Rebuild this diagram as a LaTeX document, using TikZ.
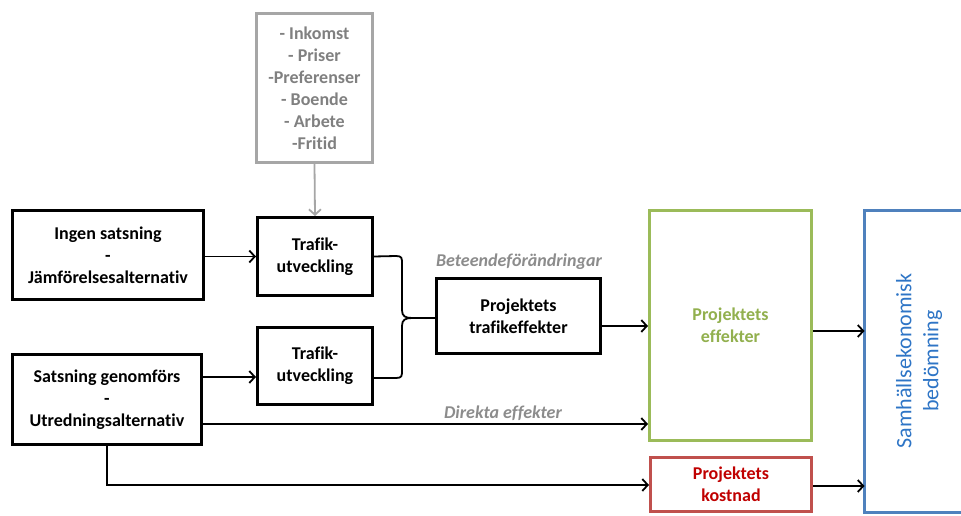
\documentclass[tikz,border=0pt]{standalone}
\usepackage{fontspec}
\setmainfont{Carlito}[Ligatures=NoCommon]
\usetikzlibrary{arrows.meta}
\definecolor{boxgray}{HTML}{A6A6A6}
\definecolor{txtgray}{HTML}{808080}
\definecolor{labgray}{HTML}{8C8C8C}
\definecolor{grn}{HTML}{9BBB59}
\definecolor{grntxt}{HTML}{92B04E}
\definecolor{redb}{HTML}{C0504D}
\definecolor{redtxt}{HTML}{C00000}
\definecolor{blu}{HTML}{4F81BD}
\definecolor{blutxt}{HTML}{2E75C6}
\begin{document}
\begin{tikzpicture}[x=1pt,y=-1pt,
  box/.style={draw, line width=3pt, align=center, inner sep=0pt,
    font=\bfseries\fontsize{18}{22}\selectfont},
  conn/.style={line width=1.8pt, -{Straight Barb[length=5.5pt,width=12pt,line width=1.8pt]}},
  plain/.style={line width=1.8pt},
  lab/.style={font=\bfseries\itshape\fontsize{18}{20}\selectfont, text=labgray}]
\useasboundingbox[fill=white] (0,0) rectangle (961,516);

\node[box, draw=boxgray, text=txtgray, minimum width=116pt, minimum height=149pt] (fac) at (314.5,88)
  {- Inkomst\\- Priser\\-Preferenser\\- Boende\\- Arbete\\-Fritid};
\node[box, minimum width=191pt, minimum height=89pt] (ingen) at (108,255)
  {Ingen satsning\\-\\Jämförelsesalternativ};
\node[box, minimum width=189pt, minimum height=90pt] (sats) at (107,399.5)
  {Satsning genomförs\\-\\Utredningsalternativ};
\node[box, minimum width=115pt, minimum height=78pt] (t1) at (315,256.5)
  {Trafik-\\utveckling};
\node[box, minimum width=115pt, minimum height=77pt] (t2) at (315,366)
  {Trafik-\\utveckling};
\node[box, minimum width=164pt, minimum height=75pt] (ptraf) at (518.5,316)
  {Projektets\\trafikeffekter};
\node[box, draw=grn, text=grntxt, minimum width=162pt, minimum height=230pt] (eff) at (730.5,325.5)
  {Projektets\\effekter};
\node[box, draw=redb, text=redtxt, minimum width=161pt, minimum height=54pt] (kost) at (731,484.5)
  {Projektets\\kostnad};
\draw[blu, line width=3pt] (975,210.5) -- (864.5,210.5) -- (864.5,512.5) -- (975,512.5);
\node[font=\fontsize{22}{27}\selectfont, text=blutxt, align=center, rotate=90] (samh) at (919,361)
  {Samhällsekonomisk\\bedömning};
\coordinate (bl) at (864.5,360);

\node[lab] (bet) at (519,262) {Beteendeförändringar};
\node[lab] (dir) at (503,413) {Direkta effekter};

\draw[conn, boxgray] (fac.south) -- (t1.north);
\draw[conn] (ingen.east |- t1.west) -- (t1.west);
\draw[conn] (sats.east |- 0,377) -- (t2.west |- 0,377);
\draw[plain] (t1.east) -- (396,256) .. controls (402,256) and (402,258) .. (402,264) -- (402,310)
  .. controls (402,316) and (405,318) .. (412,318) -- (ptraf.west |- 0,318);
\draw[plain] (t2.east |- 0,378) -- (396,378) .. controls (402,378) and (402,376) .. (402,370) -- (402,326)
  .. controls (402,320) and (405,318) .. (412,318);
\draw[conn] (ptraf.east |- 0,326) -- (eff.west |- 0,326);
\draw[conn] (sats.east |- 0,424) -- (eff.west |- 0,424);
\draw[conn] (sats.south) |- (kost.west |- 0,485);
\draw[conn] (eff.east |- 0,331) -- (bl |- 0,331);
\draw[conn] (kost.east |- 0,486) -- (bl |- 0,486);
\end{tikzpicture}
\end{document}
